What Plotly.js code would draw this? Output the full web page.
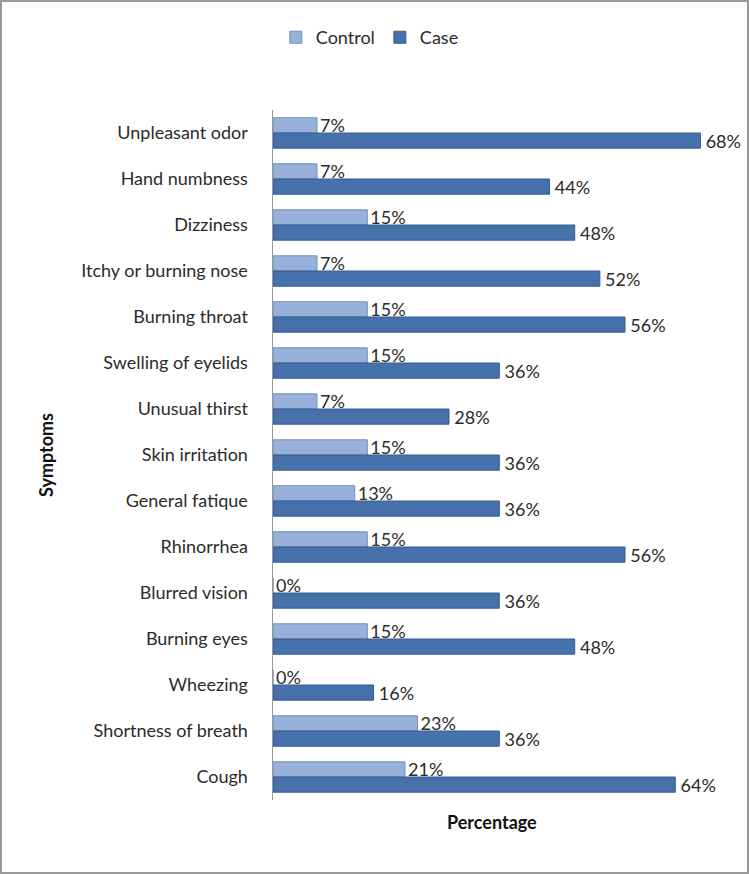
<!DOCTYPE html>
<html>
<head>
<meta charset="utf-8">
<script src="https://cdn.plot.ly/plotly-3.0.1.min.js"></script>
<style>
  html, body { margin: 0; padding: 0; background: #fff; }
  #wrap { position: absolute; left: 0; top: 0; width: 745px; height: 870px; border: 2px solid #999; }
  #chart { width: 745px; height: 870px; }
</style>
</head>
<body>
<div id="wrap"><div id="chart"></div></div>
<script>
const symptoms = [
  "Unpleasant odor", "Hand numbness", "Dizziness", "Itchy or burning nose",
  "Burning throat", "Swelling of eyelids", "Unusual thirst", "Skin irritation",
  "General fatique", "Rhinorrhea", "Blurred vision", "Burning eyes",
  "Wheezing", "Shortness of breath", "Cough"
];
const controlPct = [7, 7, 15, 7, 15, 15, 7, 15, 13, 15, 0, 15, 0, 23, 21];
const casePct    = [68, 44, 48, 52, 56, 36, 28, 36, 36, 56, 36, 48, 16, 36, 64];

const fontFam = "Lato, 'Open Sans', sans-serif";
const labelFont = { family: fontFam, size: 18, color: "#2b2b2b" };

const traces = [
  {
    type: "bar", orientation: "h", name: "Control",
    y: symptoms, x: controlPct,
    text: controlPct.map(v => v + "%"),
    textposition: "outside", constraintext: "none", cliponaxis: false,
    textfont: labelFont,
    marker: { color: "#98B1DA", line: { color: "#6F8DBE", width: 1 } },
    hoverinfo: "none"
  },
  {
    type: "bar", orientation: "h", name: "Case",
    y: symptoms, x: casePct,
    text: casePct.map(v => "\u2009" + v + "%"),
    textposition: "outside", constraintext: "none", cliponaxis: false,
    textfont: labelFont,
    marker: { color: "#4671AA", line: { color: "#335C90", width: 1 } },
    hoverinfo: "none"
  }
];

const layout = {
  width: 745, height: 870,
  margin: { l: 271, r: 34, t: 108, b: 72 },
  paper_bgcolor: "#fff", plot_bgcolor: "#fff",
  barmode: "group", bargap: 0.34, bargroupgap: 0,
  font: { family: fontFam, size: 18, color: "#2b2b2b" },
  showlegend: true,
  legend: {
    orientation: "h", x: 0.22, xanchor: "center", y: 1.105, yanchor: "middle",
    font: { family: fontFam, size: 18, color: "#2b2b2b" },
    traceorder: "normal", itemwidth: 30
  },
  xaxis: {
    range: [0, 70], showticklabels: false, showgrid: false, zeroline: false,
    showline: false, ticks: "", fixedrange: true
  },
  yaxis: {
    type: "category", autorange: "reversed", showgrid: false, zeroline: false,
    showline: true, linecolor: "#999", linewidth: 1.5, ticks: "",
    ticklabelstandoff: 20,
    tickfont: { family: fontFam, size: 18, color: "#2b2b2b" },
    fixedrange: true
  },
  annotations: [
    {
      text: "<b>Symptoms</b>", xref: "paper", yref: "paper",
      x: (44 - 271) / 440, y: 0.5, xanchor: "center", yanchor: "middle",
      textangle: -90, showarrow: false,
      font: { family: fontFam, size: 18, color: "#111" }
    },
    {
      text: "<b>Percentage</b>", xref: "paper", yref: "paper",
      x: (490 - 271) / 440, y: -(820 - 798) / 690, xanchor: "center", yanchor: "middle",
      showarrow: false,
      font: { family: fontFam, size: 18, color: "#111" }
    }
  ]
};

Plotly.newPlot("chart", traces, layout, { displayModeBar: false, staticPlot: true });
</script>
</body>
</html>
